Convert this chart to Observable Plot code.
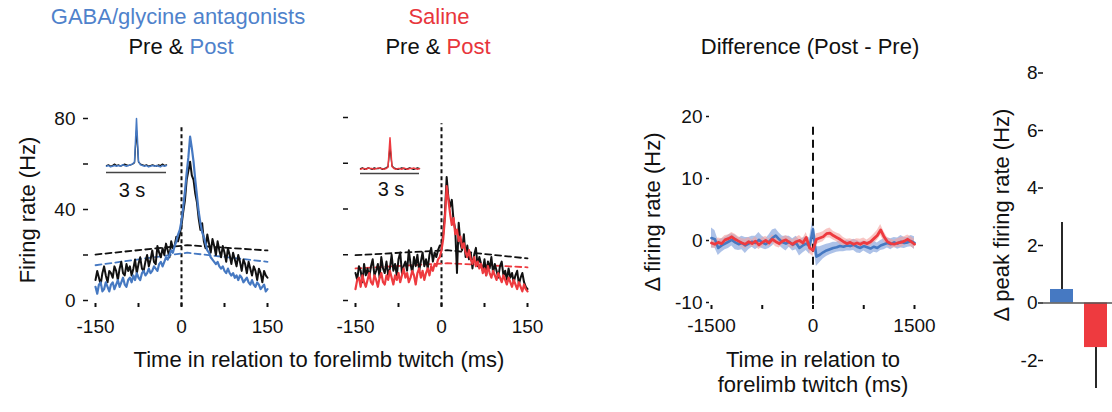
<!DOCTYPE html>
<html><head><meta charset="utf-8">
<script src="https://cdn.jsdelivr.net/npm/d3@7"></script>
<script src="https://cdn.jsdelivr.net/npm/@observablehq/plot@0.6"></script>
<style>
body{margin:0;background:#fff;}
#fig{position:relative;width:1112px;height:412px;overflow:hidden;font-family:"Liberation Sans",Arial,sans-serif;color:#111;background:#fff;}
.p{position:absolute;}
.t{position:absolute;transform:translate(-50%,-50%);white-space:nowrap;font-size:22px;line-height:1;}
.r{transform:translate(-50%,-50%) rotate(-90deg);}
</style></head><body><div id="fig"></div>
<script>
// ---------- DATA ----------
const pethTimes = d3.range(-150, 151, 3);          // ms, 3-ms bins
const gabaPre = [9,13,10,7,12,15,11,8,13,12, 10,15,13,9,14,17,12,11,16,13, 15,11,14,18,12,16,19,14,13,17,
  20,15,18,22,17,16,24,21,19,23, 20,25,22,19,26,23,24,28,26,29, 33,
  39,44,53,57,61,55,53,47,43,36, 31,34,26,23,29,25,21,27,24,20, 26,22,19,24,21,17,23,20,16,21,
  18,15,20,17,13,18,16,12,17,14, 11,15,13,9,14,12,8,13,11,10];
const gabaPost = [6,3,7,8,4,5,8,6,4,7, 8,5,7,9,6,8,10,7,6,9, 10,8,11,9,12,10,9,12,13,11,
  12,14,12,13,15,14,13,16,17,15, 17,19,18,20,22,21,24,26,29,31, 35,
  41,48,56,63,72,67,61,53,46,39, 34,30,28,25,22,21,19,18,17,16, 17,15,14,15,13,12,14,12,11,12,
  10,11,9,11,10,8,9,10,8,7, 9,7,6,8,7,5,6,7,4,5];
const salinePre = [12,9,15,13,8,16,11,14,10,15, 18,11,13,16,10,19,14,12,17,11, 14,20,13,16,11,18,21,12,15,17,
  13,22,16,12,19,15,20,13,17,21, 15,18,14,20,23,17,21,19,22,24, 24,
  29,38,54,45,41,44,35,31,12,34, 25,22,29,19,24,18,21,14,20,23, 15,19,16,13,18,11,17,14,19,12,
  16,13,10,15,17,11,13,9,14,10, 12,8,11,13,7,10,12,8,6,5];
const salinePost = [5,9,10,6,11,8,6,9,12,8, 7,11,9,6,10,12,8,7,11,9, 13,10,7,11,9,12,8,11,14,10,
  12,8,10,13,11,7,12,14,10,13, 9,12,14,11,15,13,16,15,18,19, 22,
  27,36,50,44,38,33,36,29,31,26, 28,23,25,21,19,22,18,16,19,15, 17,14,16,12,14,11,15,12,10,13,
  11,9,12,10,8,11,9,7,10,8, 6,9,7,5,8,6,4,7,5,4];

// significance thresholds (dashed)
const threshTimes = [-150, 10, 150];
const gabaPreThresh = [20.2, 24.3, 22.0];
const gabaPostThresh = [15.5, 21.0, 17.0];
const salinePreThresh = [19.8, 22.0, 18.4];
const salinePostThresh = [14.0, 16.3, 14.5];

// insets: 3-s window
const insetTimes = d3.range(-1500, 1501, 100);
const insetGabaPre  = [10,11,9,10,12,10,11,9,10,12,11,10,11,12,14,60,15,12,11,10,11,9,10,11,10,9,11,10,12,10,11];
const insetGabaPost = [9,10,8,9,10,9,10,9,11,10,9,10,11,12,15,77,16,11,10,9,10,8,9,10,9,10,9,8,10,9,10];
const insetSalPre   = [7,8,6,7,8,7,6,8,7,7,8,6,7,8,10,38,11,8,7,6,7,8,7,6,7,8,7,6,7,8,7];
const insetSalPost  = [6,7,7,6,8,7,7,6,7,8,7,7,6,7,9,51,10,7,6,7,7,6,8,7,6,7,7,8,7,6,7];

// difference (Post - Pre), mean and SEM
const diffTimes = d3.range(-1500, 1501, 50);
const gabaDiff = [0.4,0.2,-1.2,-0.8,-0.5,-0.2,0.1,-0.3,-0.6,-0.4, -0.8,-0.5,-0.2,-0.4,0.1,-0.3,-0.6,-0.2,0.4,0.8,
  0.2,-0.3,-0.5,-0.2,-0.7,-0.4,-1.2,-0.8,-0.5,-0.9, 1.8,
  -2.6,-2.3,-1.9,-1.6,-1.4,-1.2,-1.1,-0.9,-1.0,-0.8, -0.9,-0.7,-1.0,-1.2,-0.9,-1.1,-1.3,-1.0,-1.2,-0.8,
  -0.6,-0.4,-0.6,-0.3,-0.5,-0.2,-0.4,-0.3,-0.1,-0.4];
const gabaSem = [1.6,1.4,1.2,1.1,1.0,1.1,1.0,1.2,1.0,1.1, 1.3,1.0,0.9,1.1,1.2,1.0,0.9,1.1,1.3,1.1,
  1.0,1.0,1.2,0.9,1.0,1.1,1.3,1.2,1.1,1.3, 1.8,
  1.6,1.3,1.1,1.0,0.9,0.9,0.8,0.9,0.8,0.9, 0.8,0.9,1.0,0.9,0.8,0.9,1.0,0.9,0.8,0.8,
  0.9,0.8,0.9,0.8,0.9,1.0,0.9,0.8,0.9,1.0];
const salDiff = [-0.4,-0.6,-0.3,-0.5,0.1,0.3,0.6,0.2,-0.1,-0.4, -0.6,-0.2,-0.5,-0.1,-0.7,-0.3,0.0,-0.4,0.2,-0.2,
  -0.5,-0.1,0.1,-0.3,-0.6,-0.2,0.0,-0.4,0.5,-1.2, -1.6,
  0.2,0.4,0.6,1.1,1.2,0.8,0.5,0.2,-0.2,-0.5, -0.3,-0.6,-0.4,-0.6,-0.3,-0.5,-0.2,0.3,0.8,1.7,
  0.6,-0.2,-0.5,-0.6,-0.4,-0.3,-0.1,0.2,-0.2,-0.6];
const salSem = [0.8,0.7,0.7,0.8,0.7,0.6,0.7,0.8,0.7,0.7, 0.8,0.7,0.6,0.7,0.8,0.7,0.7,0.6,0.7,0.8,
  0.7,0.6,0.7,0.8,0.7,0.7,0.8,0.7,0.8,0.9, 1.0,
  0.9,0.8,0.8,0.7,0.8,0.7,0.7,0.8,0.7,0.7, 0.6,0.7,0.7,0.8,0.7,0.6,0.7,0.7,0.8,0.9,
  0.8,0.7,0.7,0.6,0.7,0.8,0.7,0.7,0.8,0.8];

// peak difference bars
const groups = ["GABA/glycine antagonists", "Saline"];
const peakMean = [0.47, -1.55];
const peakErr = [2.33, 1.42];

// ticks
const pethXTicks = [-150, -75, 0, 75, 150];
const pethXLabels = [-150, 0, 150];
const pethYTicks = [0, 20, 40, 60, 80];
const pethYLabels = [0, 40, 80];
const diffXTicks = [-1500, -750, 0, 750, 1500];
const diffXLabels = [-1500, 0, 1500];
const diffYTicks = [-10, 0, 10, 20];
const peakYTicks = [-2, 0, 2, 4, 6, 8];
const eventTime = [0];

// ---------- STYLE ----------
const BLUE = "#4679c2", RED = "#ee3a3f", BLUE_T = "#4f82cb", RED_T = "#e8363c";
const FONT = '"Liberation Sans", Arial, sans-serif';
const baseStyle = (fs) => ({fontFamily: FONT, fontSize: fs, background: "transparent", overflow: "visible", color: "#111"});
const rows = (ts, vs) => ts.map((t, i) => ({t, v: vs[i]}));
const fmt = (labels) => (d) => labels.includes(d) ? String(d) : "";
const plain = (d) => String(d);

const fig = document.getElementById("fig");
function place(node, left, top, w, h) {
  const d = document.createElement("div");
  d.className = "p";
  d.style.left = left + "px"; d.style.top = top + "px";
  d.style.width = w + "px"; d.style.height = h + "px";
  d.appendChild(node);
  fig.appendChild(d);
}
function text(html, x, y, cls = "", extra = "") {
  const d = document.createElement("div");
  d.className = "t " + cls;
  d.style.left = x + "px"; d.style.top = y + "px";
  if (extra) d.style.cssText += extra;
  d.innerHTML = html;
  fig.appendChild(d);
}

function pethPlot(pre, post, preTh, postTh, postColor, w, ml, mr, mt, showYLabels) {
  return Plot.plot({
    width: w, height: 240, marginLeft: ml, marginRight: mr, marginTop: mt, marginBottom: 40,
    style: baseStyle("19px"),
    x: {domain: [-150, 150]}, y: {domain: [0, 80]},
    marks: [
      Plot.axisY({ticks: pethYTicks, tickFormat: showYLabels ? fmt(pethYLabels) : () => "", tickSize: 5, dx: -7, tickPadding: 8, strokeWidth: 1.5, label: null}),
      Plot.axisX({ticks: pethXTicks, tickFormat: fmt(pethXLabels), tickSize: 4, dy: 3, tickPadding: 12, strokeWidth: 2, label: null}),
      Plot.ruleX(eventTime, {y1: -2.7, y2: 77.3, stroke: "#111", strokeWidth: 2, strokeDasharray: "4,3"}),
      Plot.line(rows(threshTimes, preTh), {x: "t", y: "v", stroke: "#111", strokeWidth: 1.8, strokeDasharray: "6,4"}),
      Plot.line(rows(threshTimes, postTh), {x: "t", y: "v", stroke: postColor, strokeWidth: 1.8, strokeDasharray: "6,4"}),
      Plot.line(rows(pethTimes, pre), {x: "t", y: "v", stroke: "#111", strokeWidth: 2}),
      Plot.line(rows(pethTimes, post), {x: "t", y: "v", stroke: postColor, strokeWidth: 2.2})
    ]
  });
}
function insetPlot(pre, post, postColor, w) {
  return Plot.plot({
    width: w, height: 56, margin: 0, style: baseStyle("12px"),
    x: {domain: [-1500, 1500], axis: null}, y: {domain: [0, 80], axis: null},
    marks: [
      Plot.ruleY([0], {stroke: "#444", strokeWidth: 1.5}),
      Plot.line(rows(insetTimes, pre), {x: "t", y: "v", stroke: "#111", strokeWidth: 1.3}),
      Plot.line(rows(insetTimes, post), {x: "t", y: "v", stroke: postColor, strokeWidth: 1.5})
    ]
  });
}

// Panel 1 & 2
place(pethPlot(gabaPre, gabaPost, gabaPreThresh, gabaPostThresh, BLUE, 300, 95, 33, 18, true), 0, 100, 300, 240);
place(insetPlot(insetGabaPre, insetGabaPost, BLUE, 60), 106, 116, 60, 56);
place(pethPlot(salinePre, salinePost, salinePreThresh, salinePostThresh, RED, 240, 35, 33, 17, false), 320, 100, 240, 240);
place(insetPlot(insetSalPre, insetSalPost, RED, 59), 360, 117, 59, 56);

// Panel 3
const gRows = diffTimes.map((t, i) => ({t, m: gabaDiff[i], lo: gabaDiff[i] - gabaSem[i], hi: gabaDiff[i] + gabaSem[i]}));
const sRows = diffTimes.map((t, i) => ({t, m: salDiff[i], lo: salDiff[i] - salSem[i], hi: salDiff[i] + salSem[i]}));
place(Plot.plot({
  width: 310, height: 250, marginLeft: 91, marginRight: 16, marginTop: 26, marginBottom: 38,
  style: baseStyle("19px"),
  x: {domain: [-1500, 1500]}, y: {domain: [-10, 20]},
  marks: [
    Plot.axisY({ticks: diffYTicks, tickFormat: plain, tickSize: 3, dx: -2, tickPadding: 4, strokeWidth: 1.5, label: null}),
    Plot.axisX({ticks: diffXTicks, tickFormat: fmt(diffXLabels), tickSize: 4, dy: 3, tickPadding: 9, strokeWidth: 2, label: null}),
    Plot.areaY(gRows, {x: "t", y1: "lo", y2: "hi", fill: "#98b3e2", fillOpacity: 0.8}),
    Plot.areaY(sRows, {x: "t", y1: "lo", y2: "hi", fill: "#f3a09c", fillOpacity: 0.6}),
    Plot.ruleX(eventTime, {y1: -10.3, y2: 18.9, stroke: "#111", strokeWidth: 2, strokeDasharray: "8,5"}),
    Plot.line(gRows, {x: "t", y: "m", stroke: BLUE, strokeWidth: 2.6}),
    Plot.line(sRows, {x: "t", y: "m", stroke: RED, strokeWidth: 2.8})
  ]
}), 620, 90, 310, 250);

// Panel 4
const peakRows = groups.map((g, i) => ({g, m: peakMean[i], e: peakErr[i]}));
place(Plot.plot({
  width: 152, height: 362, marginLeft: 78, marginRight: 0, marginTop: 22.5, marginBottom: 52,
  style: baseStyle("19px"),
  x: {type: "band", domain: groups, range: [90, 147], paddingInner: 0.324, paddingOuter: 0, axis: null},
  y: {domain: [-2, 8]},
  color: {domain: groups, range: [BLUE, RED]},
  marks: [
    Plot.axisY({ticks: peakYTicks, tickFormat: plain, tickSize: 5, dx: 5, tickPadding: 1, strokeWidth: 1.5, label: null}),
    Plot.ruleX(peakRows, {x: "g", y1: "m", y2: d => d.m + Math.sign(d.m) * d.e, stroke: "#111", strokeWidth: 1.8}),
    Plot.barY(peakRows, {x: "g", y: "m", fill: "g"}),
    Plot.ruleY([0], {stroke: "#555", strokeWidth: 1.5})
  ]
}), 960, 50, 152, 362);

// ---------- TEXT ----------
text(`<span style="color:${BLUE_T}">GABA/glycine antagonists</span>`, 178, 17);
text(`Pre &amp; <span style="color:${BLUE_T}">Post</span>`, 181, 47);
text(`<span style="color:${RED_T}">Saline</span>`, 439, 17);
text(`Pre &amp; <span style="color:${RED_T}">Post</span>`, 438, 47);
text(`Difference (Post - Pre)`, 810, 47);
text(`Firing rate (Hz)`, 28, 210, "r");
text(`Δ firing rate (Hz)`, 653, 212, "r");
text(`Δ peak firing rate (Hz)`, 1002, 215, "r");
text(`3 s`, 132, 190, "", "font-size:20px");
text(`3 s`, 391, 189, "", "font-size:20px");
text(`Time in relation to forelimb twitch (ms)`, 319, 360);
text(`Time in relation to`, 813, 360);
text(`forelimb twitch (ms)`, 813, 385);
</script></body></html>
